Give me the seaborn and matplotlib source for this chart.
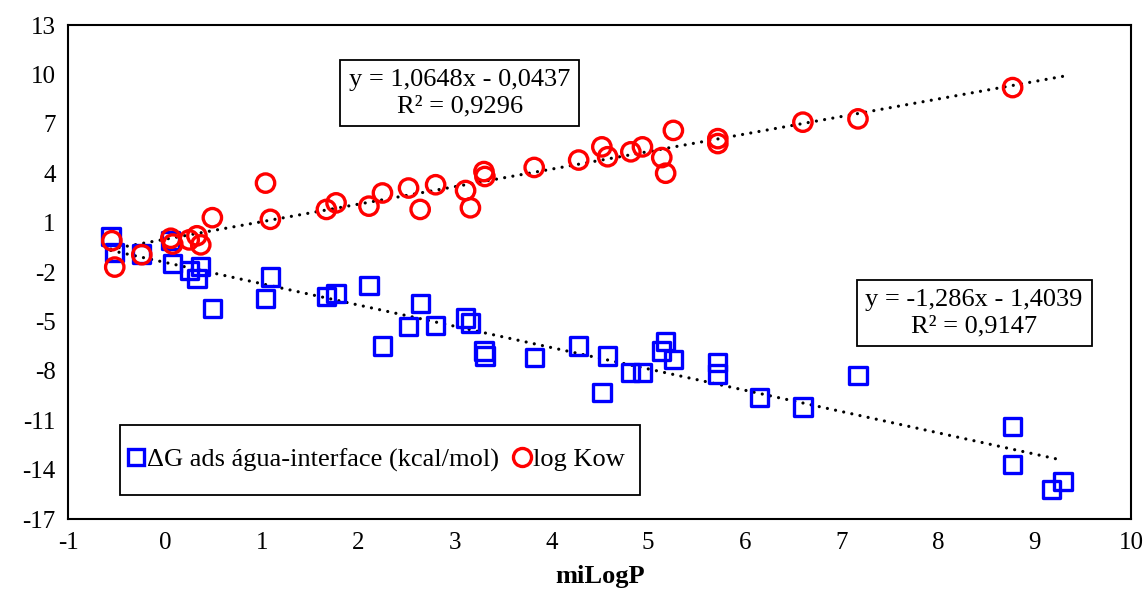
import numpy as np
import pandas as pd
import matplotlib
matplotlib.use("Agg")
import matplotlib.pyplot as plt
from matplotlib.lines import Line2D
from matplotlib.patches import Rectangle
import seaborn as sns

# miLogP de cada composto (eixo x)
milogp = [-0.55, -0.52, -0.24, 0.06, 0.08, 0.25, 0.33, 0.37, 0.49, 1.04, 1.09,
          1.67, 1.77, 2.11, 2.25, 2.52, 2.64, 2.80, 3.11, 3.16, 3.30, 3.31,
          3.82, 4.28, 4.52, 4.58, 4.82, 4.94, 5.14, 5.18, 5.26, 5.72, 5.72,
          6.60, 7.17, 8.77]
log_kow = [-0.1, -1.7, -0.95, 0.05, -0.3, -0.05, 0.2, -0.35, 1.3, 3.4, 1.2,
           1.8, 2.2, 2.0, 2.8, 3.1, 1.8, 3.3, 2.95, 1.9, 4.1, 3.8,
           4.35, 4.8, 5.6, 5.0, 5.3, 5.6, 4.95, 4.0, 6.6, 6.1, 5.8,
           7.1, 7.3, 9.2]

milogp_g = [-0.56, -0.52, -0.24, 0.06, 0.08, 0.25, 0.33, 0.37, 0.49, 1.04, 1.09,
            1.67, 1.77, 2.11, 2.25, 2.52, 2.64, 2.80, 3.11, 3.16, 3.30, 3.31,
            3.82, 4.28, 4.52, 4.58, 4.82, 4.94, 5.14, 5.18, 5.26, 5.72, 5.72,
            6.15, 6.60, 7.17, 8.77, 8.77, 9.17, 9.29]
delta_g = [0.15, -0.8, -0.9, -0.1, -1.5, -1.9, -2.4, -1.65, -4.2, -3.6, -2.3,
           -3.5, -3.3, -2.8, -6.5, -5.3, -3.9, -5.25, -4.8, -5.1, -6.8, -7.1,
           -7.2, -6.5, -9.3, -7.1, -8.1, -8.1, -6.8, -6.2, -7.3, -7.5, -8.2,
           -9.6, -10.2, -8.3, -13.7, -11.4, -15.2, -14.7]

eq_kow = "y = 1,0648x - 0,0437\nR² = 0,9296"
eq_g = "y = -1,286x - 1,4039\nR² = 0,9147"
lbl_g = "ΔG ads água-interface (kcal/mol)"
lbl_kow = "log Kow"

df_kow = pd.DataFrame({"x": milogp, "y": log_kow})
df_g = pd.DataFrame({"x": milogp_g, "y": delta_g})

sns.set_style("white")
plt.rcParams["font.family"] = ["Liberation Serif", "DejaVu Serif"]
plt.rcParams["axes.unicode_minus"] = False
plt.rcParams["text.color"] = "black"
plt.rcParams["axes.labelcolor"] = "black"

fig, ax = plt.subplots(figsize=(11.45, 5.9), dpi=100)
fig.subplots_adjust(left=0.0597, right=0.9882, top=0.9576, bottom=0.1203)

# linhas de tendencia (ajuste linear) sobre a faixa de x dos dados
x_ends = [min(milogp + milogp_g), max(milogp + milogp_g)]
dot = dict(color="black", lw=2.3, ls=(0, (0.01, 2.6)), dash_capstyle="round")
for xs, ys in [(milogp, log_kow), (milogp_g, delta_g)]:
    a, b = np.polyfit(xs, ys, 1)
    fit = pd.DataFrame({"x": x_ends, "y": [a * v + b for v in x_ends]})
    sns.lineplot(data=fit, x="x", y="y", ax=ax, **dot)

sns.scatterplot(data=df_g, x="x", y="y", marker="s", s=155, ax=ax,
                color="blue", linewidth=2.4, zorder=3)
ax.collections[-1].set_facecolor("none")
ax.collections[-1].set_edgecolor("blue")
sns.scatterplot(data=df_kow, x="x", y="y", marker="o", s=175, ax=ax,
                color="red", linewidth=2.4, zorder=4)
ax.collections[-1].set_facecolor("none")
ax.collections[-1].set_edgecolor("red")

ax.set_xlim(-1, 10)
ax.set_ylim(-17, 13)
ax.set_xticks(range(-1, 11))
ax.set_yticks(range(-17, 14, 3))
ax.tick_params(direction="inout", length=11, width=1.5, labelsize=18,
               colors="black", labelcolor="black")
for sp in ax.spines.values():
    sp.set_color("black")
    sp.set_linewidth(1.5)
ax.set_xlabel("miLogP", fontsize=19, fontweight="bold", color="black")
ax.xaxis.set_label_coords(0.5, -0.093)
ax.set_ylabel("")

box = dict(boxstyle="square,pad=0.33", fc="white", ec="black", lw=1.3)
ax.text(0.368, 0.862, eq_kow, transform=ax.transAxes, ha="center", va="center",
        fontsize=19, linespacing=1.25, color="black", bbox=box)
ax.text(0.852, 0.417, eq_g, transform=ax.transAxes, ha="center", va="center",
        fontsize=19, linespacing=1.25, color="black", bbox=box)

# moldura da legenda
ax.add_patch(Rectangle((0.049, 0.0486), 0.489, 0.142, transform=ax.transAxes,
                       fc="white", ec="black", lw=1.3, zorder=5))
handles = [
    Line2D([], [], ls="none", marker="s", ms=12, mfc="none", mec="blue", mew=2.4),
    Line2D([], [], ls="none", marker="o", ms=13, mfc="none", mec="red", mew=2.4),
]
leg = ax.legend(handles, [lbl_g, lbl_kow], loc="center left",
                bbox_to_anchor=(0.049, 0.1196), ncol=2, fontsize=19,
                frameon=False, borderpad=0.2, handletextpad=0.05,
                columnspacing=0.5, handlelength=0.75, borderaxespad=0,
                labelcolor="black")
leg.set_zorder(6)

fig.savefig("out.png", dpi=100)
